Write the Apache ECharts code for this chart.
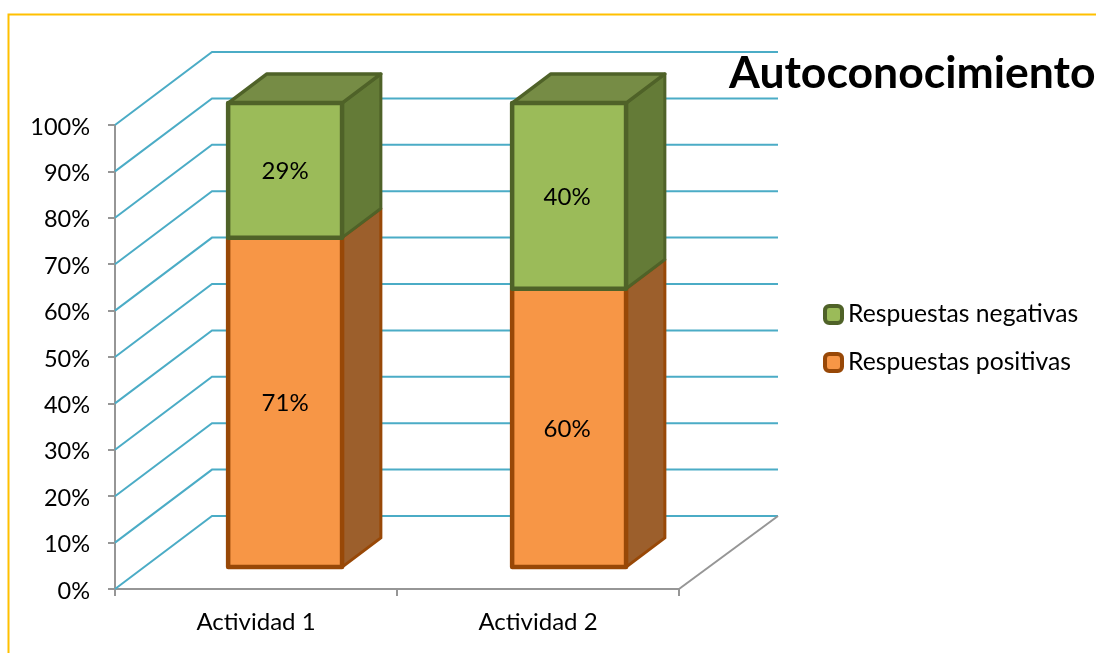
<!DOCTYPE html>
<html>
<head>
<meta charset="utf-8">
<style>html,body{margin:0;padding:0;background:#fff}#c{width:1096px;height:653px}</style>
<script src="https://cdn.jsdelivr.net/npm/echarts@6/dist/echarts.min.js"></script>
</head>
<body>
<div id="c"></div>
<script>
var categories = ['Actividad 1', 'Actividad 2'];
var positivas = [71, 60];
var negativas = [29, 40];
var yTicks = [0, 10, 20, 30, 40, 50, 60, 70, 80, 90, 100];
var FONT = 'Lato, "Open Sans", sans-serif';
var DX = 97, DY = -73;           // full depth of the 3D box, in pixels
var BACK_EXTRA = 2;              // back wall is slightly wider than the front
var BAR_NEAR = 0.3, BAR_FAR = 0.7, BAR_W = 0.404, BAR_DRIFT = 2;

function wallItem(params, api) {
  var cs = params.coordSys;
  var y = api.coord([0, api.value(0)])[1];
  return {
    type: 'polyline',
    shape: { points: [[cs.x, y], [cs.x + DX, y + DY], [cs.x + cs.width + DX + BACK_EXTRA, y + DY]] },
    style: { stroke: '#4BACC6', lineWidth: 2, fill: null }
  };
}
function floorItem(params, api) {
  var cs = params.coordSys;
  var y = cs.y + cs.height;
  return {
    type: 'line',
    shape: { x1: cs.x + cs.width, y1: y, x2: cs.x + cs.width + DX + BACK_EXTRA, y2: y + DY },
    style: { stroke: '#969696', lineWidth: 2 }
  };
}
function barItem(c) {
  return function (params, api) {
    var i = api.value(0);
    var p0 = api.coord([i, api.value(1)]);
    var p1 = api.coord([i, api.value(1) + api.value(2)]);
    var w = api.size([1, 0])[0] * BAR_W;
    var nx = DX * BAR_NEAR, ny = DY * BAR_NEAR;
    var fx = DX * (BAR_FAR - BAR_NEAR), fy = DY * (BAR_FAR - BAR_NEAR);
    var cx = p0[0] + nx;
    var l = cx - w / 2 + i * BAR_DRIFT, r = cx + w / 2 + i * BAR_DRIFT;
    var b = p0[1] + ny, t = p1[1] + ny;
    var kids = [];
    kids.push({
      type: 'polygon',
      shape: { points: [[r, b], [r + fx, b + fy], [r + fx, t + fy], [r, t]] },
      style: { fill: c.side, stroke: c.edge, lineWidth: 3, lineJoin: 'round' }
    });
    if (c.top) {
      kids.push({
        type: 'polygon',
        shape: { points: [[l, t], [r, t], [r + fx, t + fy], [l + fx, t + fy]] },
        style: { fill: c.top, stroke: c.edge, lineWidth: 3.5, lineJoin: 'round' }
      });
    }
    kids.push({
      type: 'rect',
      shape: { x: l, y: t, width: r - l, height: b - t },
      style: { fill: c.front, stroke: c.edge, lineWidth: 4.5, lineJoin: 'round' }
    });
    kids.push({
      type: 'text',
      style: {
        x: cx, y: (t + b) / 2 + 1, text: api.value(2) + '%',
        fill: '#000', font: '24px ' + FONT, align: 'center', verticalAlign: 'middle'
      }
    });
    return { type: 'group', children: kids };
  };
}

var ORANGE = { front: '#F79646', side: '#9C5F2C', edge: '#984807' };
var GREEN = { front: '#9BBB59', side: '#647B37', top: '#768C45', edge: '#4F6228' };

var option = {
  backgroundColor: '#fff',
  animation: false,
  title: {
    text: 'Autoconocimiento', left: 724, top: 46,
    textStyle: { fontFamily: FONT, fontWeight: 'bold', fontSize: 44.5, color: '#000' }
  },
  legend: {
    orient: 'vertical', left: 823, top: 302, padding: 0, itemWidth: 17, itemHeight: 17, itemGap: 23,
    textStyle: { fontFamily: FONT, fontSize: 24.7, color: '#000', padding: [0, 0, 0, 1] },
    data: [
      { name: 'Respuestas negativas', icon: 'roundRect', itemStyle: { color: GREEN.front, borderColor: GREEN.edge, borderWidth: 4 } },
      { name: 'Respuestas positivas', icon: 'roundRect', itemStyle: { color: ORANGE.front, borderColor: ORANGE.edge, borderWidth: 4 } }
    ]
  },
  grid: { left: 115, right: 417, top: 125, bottom: 64, containLabel: false },
  xAxis: {
    type: 'category', data: categories,
    axisLine: { lineStyle: { color: '#969696', width: 2 } },
    axisTick: { show: true, length: 7, lineStyle: { color: '#969696', width: 2 } },
    axisLabel: { fontFamily: FONT, fontSize: 24, color: '#000', margin: 21 }
  },
  yAxis: {
    type: 'value', min: 0, max: 100, interval: 10,
    axisLine: { show: true, lineStyle: { color: '#969696', width: 2 } },
    axisTick: { show: true, length: 7, lineStyle: { color: '#969696', width: 2 } },
    splitLine: { show: false },
    axisLabel: { fontFamily: FONT, fontSize: 23.5, color: '#000', margin: 25, verticalAlign: 'top', lineHeight: 4, formatter: '{value}%' }
  },
  series: [
    { type: 'custom', name: 'walls', silent: true, z: 1, renderItem: wallItem, data: yTicks.map(function (v) { return [v]; }), encode: { y: 0 } },
    { type: 'custom', name: 'floor', silent: true, z: 1, renderItem: floorItem, data: [[0]], encode: { y: 0 } },
    { type: 'custom', name: 'Respuestas positivas', z: 3, renderItem: barItem(ORANGE), itemStyle: { color: ORANGE.front },
      data: categories.map(function (c, i) { return [i, 0, positivas[i]]; }), encode: { x: 0, y: 1 } },
    { type: 'custom', name: 'Respuestas negativas', z: 4, renderItem: barItem(GREEN), itemStyle: { color: GREEN.front },
      data: categories.map(function (c, i) { return [i, positivas[i], negativas[i]]; }), encode: { x: 0, y: 1 } }
  ],
  graphic: [{
    type: 'polyline', silent: true, z: 0,
    shape: { points: [[8.5, 653], [8.5, 14.5], [1096, 14.5]] },
    style: { stroke: '#FFC000', lineWidth: 2, fill: null }
  }]
};
var chart = echarts.init(document.getElementById('c'), null, { renderer: 'canvas' });
chart.setOption(option);
</script>
</body>
</html>
